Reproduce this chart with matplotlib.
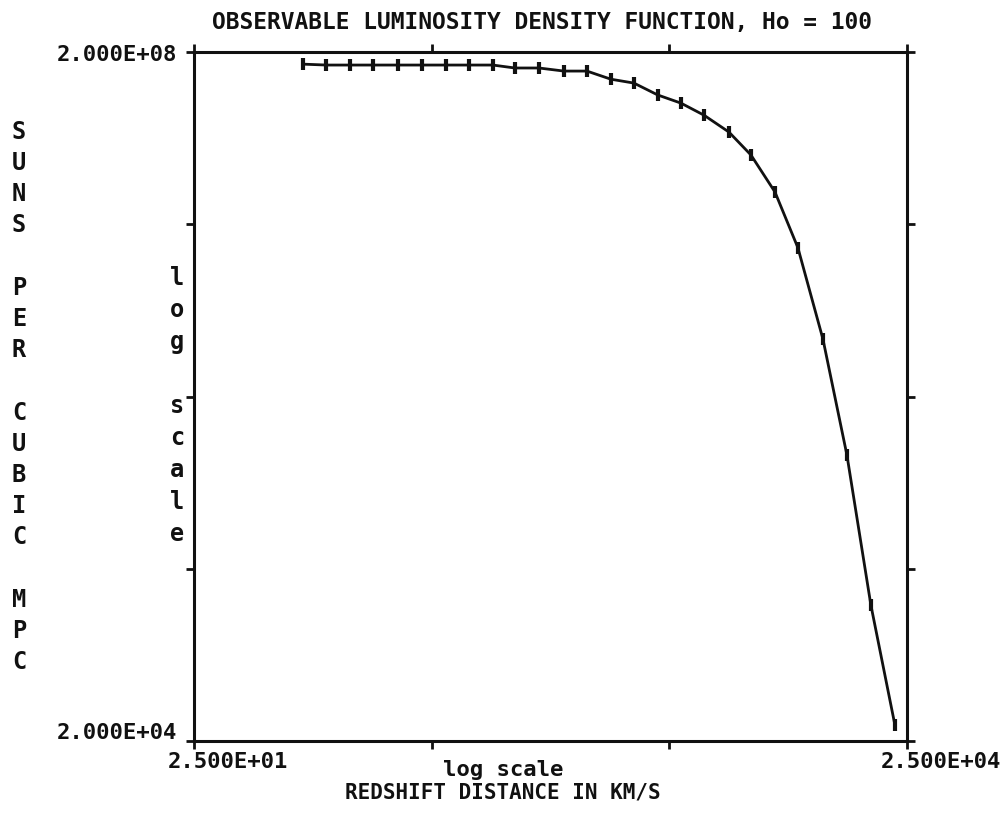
import matplotlib
matplotlib.use("Agg")
import matplotlib.pyplot as plt
from matplotlib.transforms import ScaledTranslation

# redshift distance (km/s)
redshift = [72, 90, 113, 142, 180, 227, 287, 359, 452, 560, 707, 900, 1125,
            1420, 1774, 2238, 2797, 3495, 4453, 5511, 6955, 8689, 11072,
            13968, 17620, 22233]
# luminosity density (suns per cubic Mpc)
density = [1.70e8, 1.68e8, 1.68e8, 1.68e8, 1.68e8, 1.68e8, 1.68e8, 1.68e8,
           1.68e8, 1.615e8, 1.615e8, 1.55e8, 1.55e8, 1.39e8, 1.32e8, 1.125e8,
           1.01e8, 8.6e7, 6.86e7, 5.05e7, 3.08e7, 1.46e7, 4.31e6, 9.15e5,
           1.23e5, 2.48e4]

x_ticks = [25, 250, 2500, 25000]
x_ticklabels = ["2.500E+01", "", "", "2.500E+04"]
y_ticks = [2e4, 2e5, 2e6, 2e7, 2e8]
y_ticklabels = ["2.000E+04", "", "", "", "2.000E+08"]

title = "OBSERVABLE LUMINOSITY DENSITY FUNCTION, Ho = 100"
ylabel_outer = "SUNS PER CUBIC MPC"
ylabel_inner = "log scale"
xlabel_inner = "log scale"
xlabel_outer = "REDSHIFT DISTANCE IN KM/S"

FONT = "DejaVu Sans Mono"
INK = "#111111"

fig = plt.figure(figsize=(10.08, 8.2), dpi=100)
ax = fig.add_axes([194 / 1008, 78 / 820, 713 / 1008, 689 / 820])

ax.plot(redshift, density, color=INK, lw=2.0, marker="|", ms=9, mew=3.0)

ax.set_xscale("log")
ax.set_yscale("log")
ax.set_xlim(25, 25000)
ax.set_ylim(2e4, 2e8)
ax.minorticks_off()

ax.set_xticks(x_ticks, labels=x_ticklabels)
ax.set_yticks(y_ticks, labels=y_ticklabels)
ax.tick_params(direction="out", length=6, width=2, color=INK,
               top=True, right=True, labelcolor=INK)
ax.tick_params(axis="x", pad=1)
ax.tick_params(axis="y", pad=6)

for lab in ax.get_xticklabels() + ax.get_yticklabels():
    lab.set_fontfamily(FONT)
    lab.set_fontweight("bold")
    lab.set_fontsize(16)

# x labels start a little left of their tick, like the printout
for lab in ax.get_xticklabels():
    lab.set_horizontalalignment("left")
    lab.set_transform(lab.get_transform() +
                      ScaledTranslation(-26 / 100, 0, fig.dpi_scale_trans))
# bottom y label sits on the axis line
ylabs = ax.get_yticklabels()
ylabs[0].set_transform(ylabs[0].get_transform() +
                       ScaledTranslation(0, 11 / 100, fig.dpi_scale_trans))

for side in ax.spines.values():
    side.set_linewidth(2.2)
    side.set_color(INK)

fig.text(542 / 1008, 1 - 22 / 820, title, ha="center", va="center",
         family=FONT, weight="bold", fontsize=16.5, color=INK)

# stacked vertical labels, one letter per line
outer = "\n\n".join("\n".join(w) for w in ylabel_outer.split(" "))
inner = "\n\n".join("\n".join(w) for w in ylabel_inner.split(" "))
fig.text(19 / 1008, 1 - 397 / 820, outer, ha="center", va="center",
         family=FONT, weight="bold", fontsize=17, linespacing=1.38,
         color=INK)
fig.text(177 / 1008, 1 - 406 / 820, inner, ha="center", va="center",
         family=FONT, weight="bold", fontsize=17, linespacing=1.42,
         color=INK)

fig.text(503 / 1008, 1 - 770 / 820, xlabel_inner, ha="center", va="center",
         family=FONT, weight="bold", fontsize=16, color=INK)
fig.text(503 / 1008, 1 - 793 / 820, xlabel_outer, ha="center",
         va="center", family=FONT, weight="bold", fontsize=15, color=INK)

fig.savefig("out.png", dpi=100, facecolor="white")
